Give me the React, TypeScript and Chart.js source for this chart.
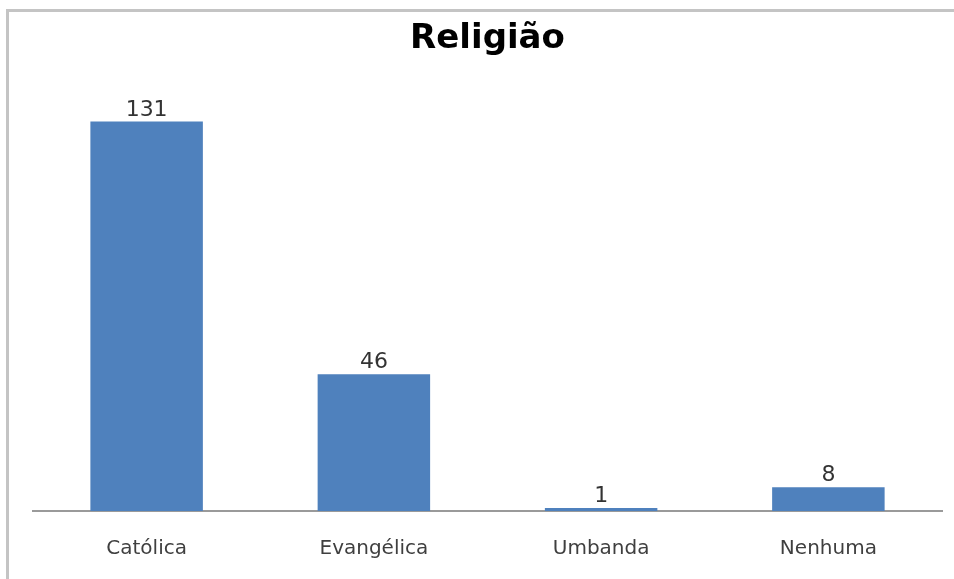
import React, { useEffect, useRef } from "react";
import { Chart, registerables } from "chart.js";

Chart.register(...registerables);

// Religion survey counts
const categories = ["Católica", "Evangélica", "Umbanda", "Nenhuma"];
const counts = [131, 46, 1, 8];
const chartTitle = "Religião";

const barColor = "#4F81BD";
const textColor = "#3f3f3f";

// Writes each bar's value just above its top edge
const valueLabels = {
  id: "valueLabels",
  afterDatasetsDraw(chart: any) {
    const { ctx } = chart;
    const meta = chart.getDatasetMeta(0);
    const data = chart.data.datasets[0].data as number[];
    ctx.save();
    ctx.font = '22px "DejaVu Sans"';
    ctx.fillStyle = "#333333";
    ctx.textAlign = "center";
    ctx.textBaseline = "alphabetic";
    meta.data.forEach((bar: any, i: number) => {
      ctx.fillText(String(data[i]), bar.x, bar.y - 6);
    });
    ctx.restore();
  },
};

export default function App() {
  const canvasRef = useRef<HTMLCanvasElement | null>(null);

  useEffect(() => {
    if (!canvasRef.current) return;
    const chart = new Chart(canvasRef.current, {
      type: "bar",
      data: {
        labels: categories,
        datasets: [
          {
            data: counts,
            backgroundColor: barColor,
            borderWidth: 0,
            categoryPercentage: 0.55,
            barPercentage: 0.9,
          },
        ],
      },
      options: {
        responsive: false,
        animation: false,
        layout: { padding: { left: 33, right: 12, top: 0, bottom: 13 } },
        plugins: {
          legend: { display: false },
          tooltip: { enabled: false },
          title: {
            display: true,
            text: chartTitle,
            color: "#000000",
            font: { family: '"DejaVu Sans"', size: 34, weight: "bold" },
            padding: { top: 19, bottom: 35 },
          },
        },
        scales: {
          x: {
            grid: { display: false, drawTicks: false },
            border: { display: true, color: "#9a9a9a", width: 2 },
            ticks: {
              color: textColor,
              padding: 26,
              font: { family: '"DejaVu Sans"', size: 20 },
            },
          },
          y: {
            display: false,
            min: 0,
            max: 140,
          },
        },
      },
      plugins: [valueLabels],
    });
    return () => chart.destroy();
  }, []);

  return (
    <div
      style={{
        position: "absolute",
        left: 0,
        top: 0,
        width: 954,
        height: 579,
        background: "#ffffff",
        overflow: "hidden",
      }}
    >
      <div
        style={{
          position: "absolute",
          left: 6,
          top: 9,
          right: -4,
          bottom: -4,
          borderTop: "3px solid #c4c4c4",
          borderLeft: "3px solid #c4c4c4",
        }}
      />
      <canvas
        ref={canvasRef}
        width={954}
        height={600}
        style={{ position: "absolute", left: 0, top: 0 }}
      />
    </div>
  );
}
